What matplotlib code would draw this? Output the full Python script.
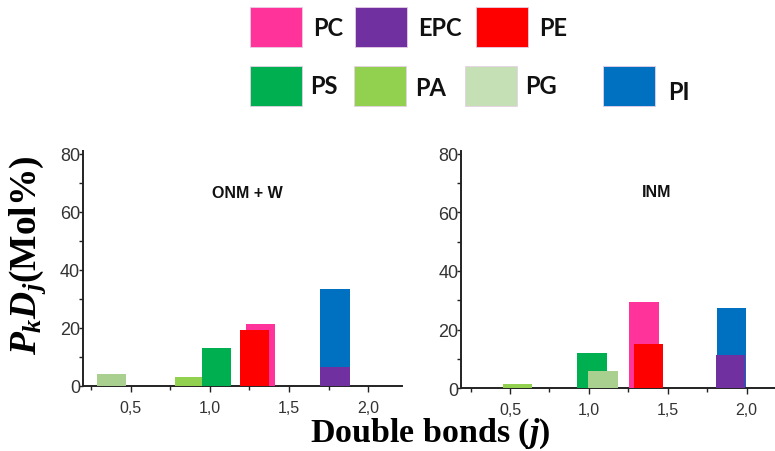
import matplotlib
matplotlib.use("Agg")
import matplotlib.pyplot as plt
from matplotlib.patches import Rectangle
from matplotlib.ticker import MultipleLocator, FuncFormatter

# ---- data ----
species = ["PC", "EPC", "PE", "PS", "PA", "PG", "PI"]
bar_colors = {"PC": "#FF3399", "EPC": "#7030A0", "PE": "#FF0000", "PS": "#00B050",
              "PA": "#92D050", "PG": "#A9D08E", "PI": "#0070C0"}
legend_colors = {"PC": "#FF3399", "EPC": "#7030A0", "PE": "#FF0000", "PS": "#00B050",
                 "PA": "#92D050", "PG": "#C5E0B4", "PI": "#0070C0"}

onm_pos = [1.32, 1.79, 1.28, 1.04, 0.87, 0.38, 1.79]
onm_val = [21.3, 6.5, 19.1, 13.1, 3.0, 4.0, 33.5]
inm_pos = [1.35, 1.90, 1.38, 1.02, 0.55, 1.09, 1.905]
inm_val = [29.4, 11.4, 15.2, 12.0, 1.5, 6.0, 27.2]

panel_titles = ["ONM + W", "INM"]
draw_order = ["PI", "EPC", "PC", "PE", "PA", "PS", "PG"]
bar_width = 0.185

plt.rcParams["font.family"] = ["Liberation Sans", "DejaVu Sans"]
plt.rcParams["mathtext.fontset"] = "custom"
plt.rcParams["mathtext.rm"] = "Liberation Serif:bold"
plt.rcParams["mathtext.it"] = "Liberation Serif:italic:bold"
plt.rcParams["mathtext.bf"] = "Liberation Serif:bold"

fig = plt.figure(figsize=(7.75, 4.52), dpi=100)

axes_rects = [[0.107, 0.144, 0.412, 0.52], [0.595, 0.139, 0.405, 0.525]]
xlims = [(0.198, 2.215), (0.19, 2.18)]
panels = [(onm_pos, onm_val), (inm_pos, inm_val)]
title_pos = [(0.319, 0.573), (0.847, 0.575)]

for rect, xl, (pos, val), title, tp in zip(axes_rects, xlims, panels, panel_titles, title_pos):
    ax = fig.add_axes(rect)
    for z, sp in enumerate(draw_order):
        i = species.index(sp)
        ax.bar(pos[i], val[i], width=bar_width, color=bar_colors[sp],
               edgecolor="none", zorder=2 + z)
    ax.set_xlim(*xl)
    ax.set_ylim(0, 81)
    for s in ["top", "right"]:
        ax.spines[s].set_visible(False)
    for s in ["left", "bottom"]:
        ax.spines[s].set_linewidth(1.4)
        ax.spines[s].set_color("#222222")
    ax.xaxis.set_major_locator(MultipleLocator(0.5))
    ax.xaxis.set_minor_locator(MultipleLocator(0.25))
    ax.yaxis.set_major_locator(MultipleLocator(20))
    ax.yaxis.set_minor_locator(MultipleLocator(10))
    ax.xaxis.set_major_formatter(FuncFormatter(lambda v, p: f"{v:.1f}".replace(".", ",")))
    ax.tick_params(axis="x", which="major", length=4, width=1, pad=6,
                   labelsize=11.5, labelcolor="#333333", color="#222222")
    ax.tick_params(axis="x", which="minor", length=3, width=1, color="#222222")
    ax.tick_params(axis="y", which="major", length=3, width=1, pad=-1,
                   labelsize=13, labelcolor="#333333", color="#222222")
    ax.tick_params(axis="y", which="minor", length=3, width=1, color="#222222")
    ax.set_facecolor("none")
    fig.text(tp[0], tp[1], title, fontsize=11.5, fontweight="bold",
             ha="center", va="center", color="#111111")

# axis labels
fig.text(0.035, 0.436, r"$P_kD_j$(Mol%)", rotation=90, fontsize=27,
         family="Liberation Serif", fontweight="bold", ha="center", va="center")
fig.text(0.555, 0.022, r"Double bonds ($j$)", fontsize=24.5,
         family="Liberation Serif", fontweight="bold", ha="center", va="baseline")

# legend (figure-level)
W, H = 775.0, 452.0
legend_items = [
    ("PC", 250, 8, 313, 28), ("EPC", 355, 8, 418, 28), ("PE", 476, 8, 539, 28),
    ("PS", 250, 67, 310, 87), ("PA", 354, 67, 415, 88), ("PG", 465, 67, 525, 87),
    ("PI", 603, 67, 668, 93),
]
for name, bx, by, tx, ty in legend_items:
    fig.patches.append(Rectangle((bx / W, 1 - (by + 40) / H), 52 / W, 40 / H,
                                 transform=fig.transFigure, facecolor=legend_colors[name],
                                 edgecolor="#e6d0e6", linewidth=0.6))
    fig.text(tx / W, 1 - ty / H, name, fontsize=17, fontweight="bold",
             family=["Lato", "DejaVu Sans"], ha="left", va="center", color="#111111")

fig.savefig("out.png", dpi=100)
